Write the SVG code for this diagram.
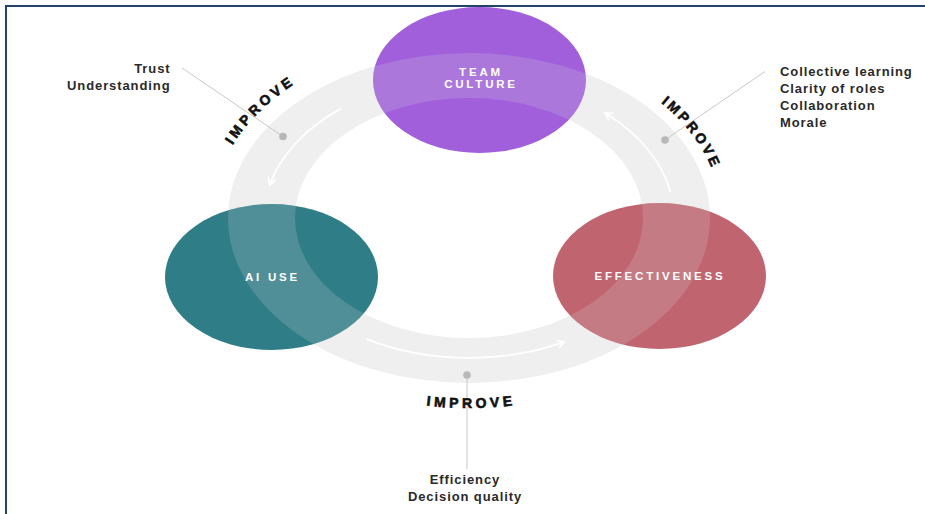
<svg xmlns="http://www.w3.org/2000/svg" width="925" height="514" viewBox="0 0 925 514">
  <style>
    .node-label { font-family: "Liberation Sans", Arial, sans-serif; font-size: 11.5px; font-weight: bold; fill: #ffffff; letter-spacing: 2.8px; text-anchor: middle; }
    .note { font-family: "Liberation Sans", Arial, sans-serif; font-size: 13px; font-weight: bold; fill: #2a2a2a; letter-spacing: 0.9px; }
    .improve { font-family: "Liberation Sans", Arial, sans-serif; font-size: 14px; font-weight: bold; fill: #111111; stroke: #111111; stroke-width: 0.6px; letter-spacing: 3.6px; }
    .leader { stroke: #c8c8c8; stroke-width: 1; fill: none; }
    .dot { fill: #b8b8b8; }
    .flow { stroke: #ffffff; stroke-width: 1.8; fill: none; marker-end: url(#chevron); }
  </style>
  <defs>
    <marker id="chevron" viewBox="0 0 10 10" refX="8" refY="5" markerWidth="10" markerHeight="10" markerUnits="userSpaceOnUse" orient="auto">
      <path d="M1,1 L8,5 L1,9" fill="none" stroke="#ffffff" stroke-width="1.7" stroke-linejoin="miter"/>
    </marker>
    <path id="ring-shape" fill-rule="evenodd" d="M228,218 a241,165 0 1,0 482,0 a241,165 0 1,0 -482,0 Z M295,218 a174,120 0 1,0 348,0 a174,120 0 1,0 -348,0 Z"/>
    <clipPath id="node-area">
      <ellipse cx="479.5" cy="80" rx="106.5" ry="73"/>
      <ellipse cx="271.5" cy="277" rx="106.5" ry="73"/>
      <ellipse cx="659.5" cy="276" rx="106.5" ry="73"/>
    </clipPath>
    <!-- baselines for the curved IMPROVE labels -->
    <path id="improve-left-path" d="M219.8,170.9 A258,182 0 0 1 321.0,68.9"/>
    <path id="improve-right-path" d="M639.9,87.5 A253,177 0 0 1 719.8,194.9"/>
    <path id="improve-bottom-path" d="M357.4,390.2 A264,190 0 0 0 584.7,388.8"/>
  </defs>

  <rect x="0" y="0" width="925" height="514" fill="#ffffff"/>

  <!-- frame -->
  <path d="M6,514 V6 H925" fill="none" stroke="#21426a" stroke-width="2"/>

  <!-- cycle ring -->
  <g id="ring">
    <use href="#ring-shape" fill="#efefef"/>
  </g>

  <g id="node-team-culture">
    <ellipse cx="479.5" cy="80" rx="106.5" ry="73" fill="#a15fdc"/>
  </g>
  <g id="node-ai-use">
    <ellipse cx="271.5" cy="277" rx="106.5" ry="73" fill="#2f7e87"/>
  </g>
  <g id="node-effectiveness">
    <ellipse cx="659.5" cy="276" rx="106.5" ry="73" fill="#c06570"/>
  </g>

  <!-- ring band showing through the nodes -->
  <g id="ring-overlay" clip-path="url(#node-area)">
    <use href="#ring-shape" fill="#d6d6d6" fill-opacity="0.2"/>
  </g>

  <!-- node captions -->
  <g id="node-captions">
    <text class="node-label" x="481" y="75.5">TEAM</text>
    <text class="node-label" x="481" y="88">CULTURE</text>
    <text class="node-label" x="272.5" y="281">AI USE</text>
    <text class="node-label" x="660" y="280">EFFECTIVENESS</text>
  </g>

  <!-- flow arrows along the ring -->
  <g id="connectors">
    <path class="flow" d="M341.1,108.6 A205,140 0 0 0 269.7,185.1"/>
    <path class="flow" d="M366.5,339.2 A205,140 0 0 0 564.3,341.9"/>
    <path class="flow" d="M670.6,192.5 A205,140 0 0 0 604.9,113.1"/>
  </g>

  <!-- callouts -->
  <g id="callout-left">
    <line class="leader" x1="182" y1="68" x2="283" y2="136.5"/>
    <circle class="dot" cx="283" cy="136.5" r="3.8"/>
    <text class="note" x="170.5" y="72.5" text-anchor="end">Trust</text>
    <text class="note" x="170.5" y="89.5" text-anchor="end">Understanding</text>
    <text class="improve" text-anchor="middle"><textPath href="#improve-left-path" startOffset="50%">IMPROVE</textPath></text>
  </g>

  <g id="callout-right">
    <line class="leader" x1="765" y1="71.5" x2="665" y2="140"/>
    <circle class="dot" cx="665" cy="140" r="3.8"/>
    <text class="note" x="780" y="75.5">Collective learning</text>
    <text class="note" x="780" y="92.5">Clarity of roles</text>
    <text class="note" x="780" y="109.5">Collaboration</text>
    <text class="note" x="780" y="126.5">Morale</text>
    <text class="improve" text-anchor="middle" style="letter-spacing:3px"><textPath href="#improve-right-path" startOffset="50%">IMPROVE</textPath></text>
  </g>

  <g id="callout-bottom">
    <line class="leader" x1="467" y1="375" x2="467" y2="469"/>
    <circle class="dot" cx="467" cy="375" r="3.8"/>
    <text class="improve" text-anchor="middle"><textPath href="#improve-bottom-path" startOffset="50%">IMPROVE</textPath></text>
    <text class="note" x="465" y="484" text-anchor="middle">Efficiency</text>
    <text class="note" x="465" y="500.5" text-anchor="middle">Decision quality</text>
  </g>
</svg>
